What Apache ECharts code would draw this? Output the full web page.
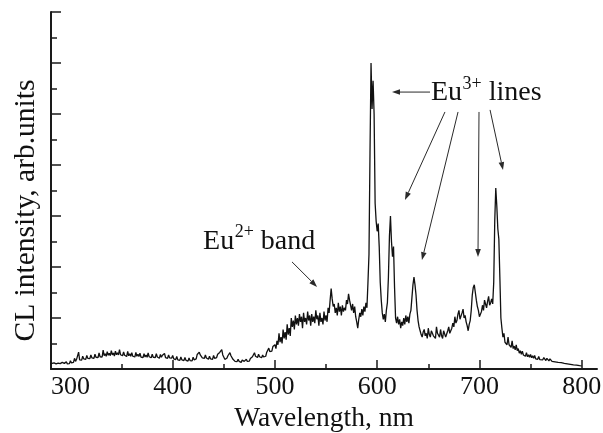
<!DOCTYPE html>
<html><head><meta charset="utf-8">
<script src="https://cdn.jsdelivr.net/npm/echarts@6/dist/echarts.min.js"></script>
<style>html,body{margin:0;padding:0;background:#fff}#c{width:603px;height:433px}</style>
</head><body><div id="c"></div>
<script>
// CL spectrum, [wavelength nm, intensity arb. units]
const uvRegion = [[280,0.20],[281,0.15],[282,0.22],[283,0.16],[284,0.24],[285,0.18],[286,0.20],[287,0.14],[288,0.23],[289,0.17],[290,0.21],[291,0.16],[292,0.26],[293,0.19],[294,0.22],[295,0.17],[296,0.28],[297,0.20],[298,0.25],[299,0.21],[300,0.32],[301,0.24],[302,0.30],[303,0.26],[304,0.42],[305,0.30],[306,0.38],[307,0.33],[308,0.66],[309,0.36],[310,0.42],[311,0.35],[312,0.50],[313,0.40],[314,0.46],[315,0.38],[316,0.53],[317,0.42],[318,0.49],[319,0.41],[320,0.55],[321,0.44],[322,0.50],[323,0.42],[324,0.58],[325,0.46],[326,0.52],[327,0.45],[328,0.63],[329,0.48],[330,0.55],[331,0.47],[332,0.74],[333,0.52],[334,0.60],[335,0.50],[336,0.68],[337,0.54],[338,0.62],[339,0.52],[340,0.72],[341,0.55],[342,0.63],[343,0.51],[344,0.70],[345,0.56],[346,0.64],[347,0.55],[348,0.76],[349,0.56],[350,0.62],[351,0.52],[352,0.67],[353,0.54],[354,0.58],[355,0.49],[356,0.69],[357,0.52],[358,0.60],[359,0.50],[360,0.64],[361,0.50],[362,0.56],[363,0.47],[364,0.65],[365,0.50],[366,0.58],[367,0.49],[368,0.62],[369,0.47],[370,0.53],[371,0.45],[372,0.60],[373,0.47],[374,0.55],[375,0.46],[376,0.63],[377,0.48],[378,0.52],[379,0.44],[380,0.58],[381,0.46],[382,0.53],[383,0.45],[384,0.60],[385,0.47],[386,0.50],[387,0.42],[388,0.57],[389,0.46],[390,0.54],[391,0.47],[392,0.61],[393,0.45],[394,0.50],[395,0.42],[396,0.55],[397,0.44],[398,0.51],[399,0.43],[400,0.53],[401,0.40],[402,0.45],[403,0.37],[404,0.49],[405,0.36],[406,0.41],[407,0.34],[408,0.47],[409,0.36],[410,0.42],[411,0.33],[412,0.45],[413,0.34],[414,0.38],[415,0.31],[416,0.43],[417,0.33],[418,0.39],[419,0.32],[420,0.46],[421,0.36],[422,0.41],[423,0.40],[424,0.57],[425,0.52],[426,0.66],[427,0.55],[428,0.52],[429,0.44],[430,0.48],[431,0.42],[432,0.55],[433,0.43],[434,0.44],[435,0.38],[436,0.50],[437,0.40],[438,0.45],[439,0.38],[440,0.53],[441,0.42],[442,0.44],[443,0.45],[444,0.58],[445,0.52],[446,0.65],[447,0.60],[448,0.76],[449,0.55],[450,0.48],[451,0.38],[452,0.40],[453,0.42],[454,0.52],[455,0.55],[456,0.64],[457,0.52],[458,0.47],[459,0.38],[460,0.37],[461,0.30],[462,0.33],[463,0.29],[464,0.38],[465,0.30],[466,0.31],[467,0.26],[468,0.35],[469,0.28],[470,0.30],[471,0.27],[472,0.38],[473,0.30],[474,0.33],[475,0.31],[476,0.41],[477,0.38],[478,0.48],[479,0.50],[480,0.64],[481,0.50],[482,0.50],[483,0.45],[484,0.58],[485,0.48],[486,0.48],[487,0.44],[488,0.55],[489,0.47],[490,0.52],[491,0.50],[492,0.66],[493,0.62],[494,0.82],[495,0.68],[496,0.73],[497,0.70],[498,0.88],[499,0.82]];
const eu2Band = [[500,0.95],[501,0.80],[502,1.10],[503,0.95],[504,1.40],[505,1.05],[506,1.25],[507,1.00],[508,1.55],[509,1.20],[510,1.45],[511,1.15],[512,1.75],[513,1.35],[514,1.60],[515,1.30],[516,2.00],[517,1.65],[518,1.90],[519,1.55],[520,2.10],[521,1.75],[522,2.00],[523,1.70],[524,2.15],[525,1.85],[526,2.05],[527,1.60],[528,2.20],[529,1.85],[530,2.00],[531,1.75],[532,2.25],[533,1.90],[534,2.10],[535,1.70],[536,2.15],[537,1.85],[538,2.05],[539,1.80],[540,2.30],[541,1.95],[542,2.10],[543,1.70],[544,2.20],[545,1.85],[546,2.00],[547,1.75],[548,2.25],[549,1.90],[550,2.10],[551,1.85],[552,2.40],[553,2.20],[554,2.70],[555,3.15],[556,2.75],[557,2.45],[558,2.55],[559,2.20],[560,2.40],[561,2.10],[562,2.60],[563,2.25],[564,2.45],[565,2.10],[566,2.50],[567,2.25],[568,2.40],[569,2.30],[570,2.70],[571,2.55],[572,2.95],[573,2.70],[574,2.50],[575,2.30],[576,2.55],[577,2.20],[578,2.45],[579,2.05],[580,1.85],[581,1.60],[582,1.95],[583,2.20],[584,2.05],[585,2.35],[586,2.10],[587,2.45],[588,2.25],[589,2.60],[590,2.40],[591,3.40]];
const eu3Lines = [[592,4.5],[593,8.5],[594,12.0],[595,10.2],[596,11.3],[597,10.0],[598,6.5],[599,5.8],[600,5.4],[601,5.7],[602,4.8],[603,3.4],[604,2.7],[605,2.2],[606,1.95],[607,2.15],[608,1.85],[609,2.3],[610,2.6],[611,3.6],[612,5.2],[613,6.0],[614,5.0],[615,4.4],[616,4.8],[617,3.2],[618,2.0],[619,1.80],[620,2.05],[621,1.75],[622,1.95],[623,1.60],[624,1.85],[625,1.70],[626,2.00],[627,1.75],[628,2.10],[629,1.85],[630,2.05],[631,1.80],[632,2.15],[633,2.30],[634,2.80],[635,3.30],[636,3.60],[637,3.30],[638,2.90],[639,2.30],[640,1.90],[641,1.65],[642,1.50],[643,1.35],[644,1.25],[645,1.45],[646,1.55],[647,1.30],[648,1.40],[649,1.20],[650,1.60],[651,1.35],[652,1.25],[653,1.50],[654,1.55],[655,1.30],[656,1.35],[657,1.20],[658,1.65],[659,1.40],[660,1.45],[661,1.25],[662,1.55],[663,1.30],[664,1.20],[665,1.50],[666,1.45],[667,1.25],[668,1.30],[669,1.50],[670,1.65],[671,1.40],[672,1.45],[673,1.60],[674,1.80],[675,1.65],[676,2.05],[677,1.80],[678,1.90],[679,2.15],[680,2.30],[681,1.95],[682,2.00],[683,2.20],[684,2.35],[685,2.00],[686,2.10],[687,1.85],[688,1.70],[689,1.50],[690,1.75],[691,1.90],[692,2.30],[693,2.90],[694,3.20],[695,3.30],[696,3.00],[697,2.70],[698,2.45],[699,2.30],[700,2.05],[701,2.00],[702,2.25],[703,2.50],[704,2.30],[705,2.70],[706,2.55],[707,2.40],[708,2.65],[709,2.85],[710,2.50],[711,2.60],[712,2.75],[713,2.55],[714,3.40],[715,5.80],[716,7.10],[717,6.40],[718,5.50],[719,5.10],[720,3.60],[721,2.00]];
const tailRegion = [[722,1.60],[723,1.25],[724,1.40],[725,1.05],[726,1.10],[727,0.95],[728,1.25],[729,0.95],[730,1.00],[731,0.85],[732,1.10],[733,0.80],[734,0.90],[735,0.75],[736,0.95],[737,0.72],[738,0.80],[739,0.62],[740,0.72],[741,0.58],[742,0.70],[743,0.55],[744,0.62],[745,0.50],[746,0.64],[747,0.48],[748,0.56],[749,0.46],[750,0.57],[751,0.44],[752,0.52],[753,0.42],[754,0.53],[755,0.40],[756,0.47],[757,0.38],[758,0.49],[759,0.37],[760,0.44],[762,0.36],[763,0.45],[765,0.33],[766,0.42],[768,0.32],[769,0.40],[771,0.30],[772,0.37],[774,0.28],[775,0.35],[777,0.26],[778,0.33],[780,0.25],[781,0.31],[783,0.22],[784,0.29],[786,0.20],[787,0.27],[789,0.18],[790,0.24],[792,0.16],[793,0.22],[795,0.15],[796,0.20],[798,0.13],[799,0.18],[800,0.12]];

const xTickLabels = [300,400,500,600,700,800];
const xMajorTicks = [400,500,600,700,800];
const xMinorTicks = [350,450,550,650,750];
const yMajorTicks = [2,4,6,8,10,12,14];
const yMinorTicks = [1,3,5,7,9,11,13];

// annotations: label start in data coordinates, pieces laid out left to right
const eu3Label = {at: [652.6, 10.82], pieces: [['Eu', false], ['3+', true], [' lines', false]]};
const eu2Label = {at: [429.7, 5.0], pieces: [['Eu', false], ['2+', true], [' band', false]]};
const arrows = [
  [[651.7,10.86],[614.5,10.86]],
  [[666.3,10.08],[627.2,6.63]],
  [[679.1,10.08],[643.8,4.27]],
  [[699.6,10.08],[698.6,4.39]],
  [[710.4,10.16],[723.1,7.80]],
  [[516.7,4.20],[541.2,3.22]]
];

const FONT = '"Liberation Serif", "Times New Roman", serif';
const INK = '#1a1a1a';
const BIG = 28, SUP = 18;
const spectrum = [].concat(uvRegion, eu2Band, eu3Lines, tailRegion);

const chart = echarts.init(document.getElementById('c'));
chart.setOption({
  animation: false,
  backgroundColor: '#fff',
  grid: {left: 51, right: 6, top: 12, bottom: 64, containLabel: false, outerBoundsMode: 'none'},
  xAxis: [{
    type: 'value', min: 281, max: 815, position: 'bottom',
    axisLine: {show: true, lineStyle: {color: INK, width: 2}},
    axisTick: {show: true, inside: true, length: 9, customValues: xMajorTicks, lineStyle: {color: INK, width: 1.5}},
    axisLabel: {customValues: xTickLabels, color: '#111', fontFamily: FONT, fontSize: 26, margin: 5},
    splitLine: {show: false},
    name: 'Wavelength, nm', nameLocation: 'middle', nameGap: 25,
    nameTextStyle: {color: '#111', fontFamily: FONT, fontSize: 27.5}
  }, {
    type: 'value', min: 281, max: 815, position: 'bottom', offset: 0,
    axisLine: {show: false},
    axisTick: {show: true, inside: true, length: 5, customValues: xMinorTicks, lineStyle: {color: INK, width: 1.5}},
    axisLabel: {show: false}, splitLine: {show: false}
  }],
  yAxis: [{
    type: 'value', min: 0, max: 14, position: 'left',
    axisLine: {show: true, lineStyle: {color: INK, width: 2}},
    axisTick: {show: true, inside: true, length: 10, customValues: yMajorTicks, lineStyle: {color: INK, width: 1.5}},
    axisLabel: {show: false}, splitLine: {show: false},
    name: 'CL intensity, arb.units', nameLocation: 'middle', nameGap: 10,
    nameTextStyle: {color: '#111', fontFamily: FONT, fontSize: 29.5, padding: [0, 40, 0, 0]}
  }, {
    type: 'value', min: 0, max: 14, position: 'left', offset: 0,
    axisLine: {show: false},
    axisTick: {show: true, inside: true, length: 6, customValues: yMinorTicks, lineStyle: {color: INK, width: 1.5}},
    axisLabel: {show: false}, splitLine: {show: false}
  }],
  series: [{
    type: 'line', xAxisIndex: 0, yAxisIndex: 0, data: spectrum,
    symbol: 'none', showSymbol: false, lineStyle: {color: '#111', width: 1.3}
  }]
});

const toPx = p => chart.convertToPixel({xAxisIndex: 0, yAxisIndex: 0}, p);
const ctx = document.createElement('canvas').getContext('2d');
function textWidth(t, size) { ctx.font = size + 'px ' + FONT; return ctx.measureText(t).width; }
const graphics = [];
function addLabel(lbl) {
  const p = toPx(lbl.at);
  let x = p[0];
  lbl.pieces.forEach(([t, sup]) => {
    const size = sup ? SUP : BIG;
    graphics.push({type: 'text', x: x, y: sup ? p[1] - 9 : p[1], silent: true,
      style: {text: t, fill: '#111', fontFamily: FONT, fontSize: size, align: 'left', verticalAlign: 'middle'}});
    x += textWidth(t, size) + (sup ? 0 : 0.5);
  });
}
addLabel(eu3Label); addLabel(eu2Label);
arrows.forEach(a => {
  const s = toPx(a[0]), e = toPx(a[1]);
  const dx = e[0] - s[0], dy = e[1] - s[1], L = Math.hypot(dx, dy);
  const ux = dx / L, uy = dy / L, hl = 8, hw = 2.8;
  const bx = e[0] - ux * hl, by = e[1] - uy * hl;
  graphics.push({type: 'line', silent: true, shape: {x1: s[0], y1: s[1], x2: bx, y2: by}, style: {stroke: '#2a2a2a', lineWidth: 1}});
  graphics.push({type: 'polygon', silent: true, shape: {points: [[e[0], e[1]], [bx - uy * hw, by + ux * hw], [bx + uy * hw, by - ux * hw]]}, style: {fill: '#2a2a2a'}});
});
chart.setOption({graphic: graphics});
</script>
</body></html>
